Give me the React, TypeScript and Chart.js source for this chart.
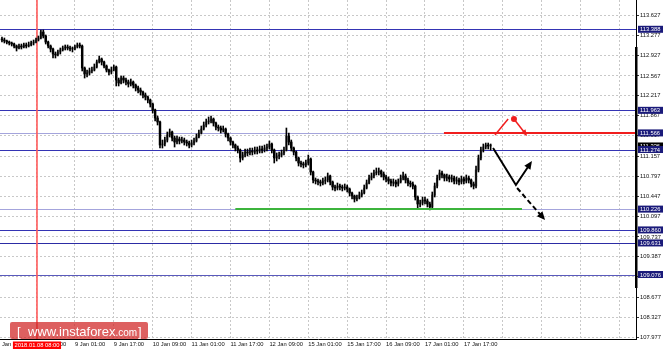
import React, { useEffect, useRef } from "react";
import { Chart, registerables } from "chart.js";
Chart.register(...registerables);

// ---- data (hourly bars, bar index 16 = 8 Jan 09:00) ----
const FIRST_BAR = 2;
const FIRST_OPEN = 113.217;
const closes = [
  113.200, 113.182, 113.164, 113.147, 113.129, 113.094, 113.059, 113.094, 113.077, 113.112,
  113.094, 113.112, 113.147, 113.164, 113.200, 113.235, 113.340, 113.270, 113.164, 113.094,
  113.041, 112.953, 112.936, 112.989, 113.024, 113.059, 113.077, 113.059, 113.041, 113.041,
  113.077, 113.112, 113.094, 112.707, 112.602, 112.619, 112.655, 112.672, 112.725, 112.813,
  112.866, 112.813, 112.742, 112.672, 112.637, 112.672, 112.725, 112.496, 112.444, 112.531,
  112.496, 112.461, 112.426, 112.461, 112.408, 112.356, 112.320, 112.285, 112.233, 112.197,
  112.145, 112.074, 111.969, 111.828, 111.758, 111.353, 111.371, 111.441, 111.529, 111.582,
  111.476, 111.406, 111.459, 111.424, 111.441, 111.406, 111.388, 111.353, 111.388, 111.424,
  111.494, 111.564, 111.635, 111.705, 111.758, 111.775, 111.810, 111.740, 111.670, 111.652,
  111.617, 111.635, 111.547, 111.476, 111.406, 111.353, 111.300, 111.265, 111.125, 111.177,
  111.230, 111.213, 111.248, 111.230, 111.265, 111.248, 111.283, 111.265, 111.300, 111.318,
  111.371, 111.265, 111.125, 111.160, 111.177, 111.213, 111.265, 111.511, 111.406, 111.300,
  111.230, 111.125, 111.037, 111.019, 111.002, 111.037, 111.107, 110.879, 110.738, 110.720,
  110.703, 110.685, 110.720, 110.738, 110.808, 110.703, 110.615, 110.597, 110.632, 110.615,
  110.597, 110.615, 110.580, 110.509, 110.457, 110.404, 110.421, 110.474, 110.509, 110.597,
  110.685, 110.773, 110.808, 110.861, 110.879, 110.896, 110.843, 110.791, 110.756, 110.720,
  110.685, 110.703, 110.668, 110.703, 110.773, 110.808, 110.738, 110.685, 110.668, 110.632,
  110.439, 110.316, 110.333, 110.386, 110.369, 110.316, 110.263, 110.474, 110.632, 110.773,
  110.861, 110.826, 110.773, 110.791, 110.756, 110.773, 110.720, 110.738, 110.703, 110.756,
  110.720, 110.773, 110.738, 110.668, 110.632, 110.914, 111.125, 111.265, 111.318, 111.353,
  111.336, 111.336,
];
const highs = [
  113.252, 113.235, 113.200, 113.182, 113.164, 113.147, 113.112, 113.129, 113.129, 113.147,
  113.147, 113.164, 113.182, 113.200, 113.235, 113.270, 113.376, 113.376, 113.288, 113.182,
  113.112, 113.059, 112.989, 113.024, 113.059, 113.094, 113.112, 113.112, 113.094, 113.077,
  113.112, 113.147, 113.147, 113.112, 112.725, 112.672, 112.707, 112.725, 112.778, 112.848,
  112.918, 112.883, 112.830, 112.760, 112.690, 112.725, 112.760, 112.742, 112.531, 112.567,
  112.567, 112.531, 112.496, 112.514, 112.479, 112.426, 112.391, 112.356, 112.303, 112.268,
  112.215, 112.162, 112.092, 111.986, 111.863, 111.775, 111.441, 111.494, 111.582, 111.635,
  111.599, 111.511, 111.511, 111.494, 111.494, 111.476, 111.441, 111.424, 111.441, 111.476,
  111.547, 111.617, 111.687, 111.758, 111.810, 111.846, 111.863, 111.828, 111.758, 111.705,
  111.687, 111.687, 111.652, 111.564, 111.494, 111.424, 111.371, 111.336, 111.283, 111.230,
  111.283, 111.283, 111.300, 111.300, 111.318, 111.318, 111.336, 111.336, 111.353, 111.371,
  111.424, 111.388, 111.283, 111.213, 111.230, 111.265, 111.318, 111.652, 111.564, 111.441,
  111.318, 111.248, 111.142, 111.072, 111.054, 111.090, 111.177, 111.125, 110.896, 110.773,
  110.756, 110.738, 110.773, 110.791, 110.861, 110.826, 110.720, 110.650, 110.685, 110.668,
  110.650, 110.668, 110.650, 110.597, 110.527, 110.474, 110.474, 110.527, 110.562, 110.650,
  110.738, 110.826, 110.861, 110.914, 110.949, 110.949, 110.914, 110.879, 110.826, 110.791,
  110.756, 110.756, 110.738, 110.756, 110.826, 110.879, 110.843, 110.773, 110.720, 110.703,
  110.650, 110.457, 110.386, 110.439, 110.439, 110.404, 110.351, 110.527, 110.685, 110.826,
  110.914, 110.896, 110.843, 110.843, 110.826, 110.826, 110.808, 110.791, 110.773, 110.808,
  110.791, 110.826, 110.808, 110.756, 110.703, 110.984, 111.177, 111.318, 111.371, 111.388,
  111.388, 111.371,
];
const lows = [
  113.164, 113.147, 113.129, 113.112, 113.094, 113.059, 113.006, 113.041, 113.041, 113.059,
  113.059, 113.077, 113.094, 113.112, 113.147, 113.182, 113.217, 113.235, 113.129, 113.059,
  112.989, 112.883, 112.883, 112.918, 112.953, 113.006, 113.024, 113.024, 113.006, 112.989,
  113.024, 113.059, 113.059, 112.655, 112.531, 112.549, 112.584, 112.619, 112.655, 112.707,
  112.795, 112.760, 112.707, 112.637, 112.584, 112.602, 112.655, 112.391, 112.391, 112.426,
  112.444, 112.408, 112.373, 112.391, 112.356, 112.303, 112.268, 112.233, 112.180, 112.145,
  112.092, 112.021, 111.916, 111.775, 111.705, 111.300, 111.300, 111.336, 111.406, 111.494,
  111.424, 111.318, 111.371, 111.371, 111.388, 111.353, 111.336, 111.300, 111.318, 111.353,
  111.406, 111.476, 111.547, 111.617, 111.670, 111.722, 111.740, 111.687, 111.617, 111.599,
  111.564, 111.582, 111.494, 111.424, 111.353, 111.300, 111.248, 111.213, 111.054, 111.090,
  111.142, 111.160, 111.177, 111.177, 111.195, 111.195, 111.213, 111.213, 111.230, 111.248,
  111.283, 111.213, 111.037, 111.072, 111.107, 111.142, 111.177, 111.248, 111.353, 111.248,
  111.177, 111.072, 110.984, 110.967, 110.949, 110.967, 111.002, 110.826, 110.685, 110.668,
  110.650, 110.632, 110.650, 110.668, 110.703, 110.650, 110.562, 110.545, 110.562, 110.562,
  110.545, 110.562, 110.527, 110.457, 110.404, 110.351, 110.369, 110.404, 110.439, 110.492,
  110.580, 110.668, 110.738, 110.773, 110.826, 110.826, 110.791, 110.738, 110.703, 110.668,
  110.632, 110.632, 110.615, 110.632, 110.685, 110.738, 110.685, 110.632, 110.615, 110.580,
  110.386, 110.245, 110.263, 110.298, 110.316, 110.263, 110.210, 110.228, 110.439, 110.597,
  110.738, 110.773, 110.720, 110.720, 110.703, 110.703, 110.668, 110.668, 110.650, 110.668,
  110.668, 110.685, 110.685, 110.615, 110.580, 110.597, 110.879, 111.090, 111.230, 111.283,
  111.283, 111.265,
];

const timeTickBars = [0, 16, 32, 48, 64, 80, 96, 112, 128, 144, 160, 176, 192, 208, 224, 240, 256];
const timeTickLabels = [
  "5 Jan 17:00", "8 Jan 09:00", "9 Jan 01:00", "9 Jan 17:00", "10 Jan 09:00", "11 Jan 01:00",
  "11 Jan 17:00", "12 Jan 09:00", "15 Jan 01:00", "15 Jan 17:00", "16 Jan 09:00", "17 Jan 01:00",
  "17 Jan 17:00", "", "", "", "",
];
const priceTicks = [
  113.627, 113.277, 112.927, 112.567, 112.217, 111.867, 111.517, 111.157, 110.797,
  110.447, 110.097, 109.737, 109.387, 109.037, 108.677, 108.327, 107.977,
];
const levelPrices = [113.388, 111.963, 111.566, 111.274, 110.226, 109.86, 109.631, 109.076];
const levelColors = ["#3434b4", "#3434b4", "#a4a4dc", "#3434b4", "#a4a4dc", "#3434b4", "#2c2ca4", "#5a5abc"];

const markerBar = 16.4;
const markerLabel = "2018.01.08 08:00";
const redLevel = 111.566;
const redFromBar = 183.8;
const greenLevel = 110.226;
const greenFromBar = 98;
const greenToBar = 215.9;
const redRise = [[204.8, 111.53], [210.2, 111.811]];
const redDot = [212.6, 111.811];
const redArrow = [[212.6, 111.811], [218.0, 111.512]];
const blackPath = [[204.0, 111.301], [213.4, 110.65], [220.0, 111.072]];
const blackDash = [[213.9, 110.597], [225.4, 110.035]];

const X_MIN = 1.19;
const X_MAX = 262.8;
const Y_MIN = 107.942;
const Y_MAX = 113.903;

const FONT = "'Liberation Sans', Arial, sans-serif";

function drawArrow(ctx: CanvasRenderingContext2D, pts: number[][], color: string, width: number, dash: number[], head: number) {
  ctx.save();
  ctx.strokeStyle = color;
  ctx.fillStyle = color;
  ctx.lineWidth = width;
  ctx.setLineDash(dash);
  const n = pts.length;
  const [x1, y1] = pts[n - 2];
  const [x2, y2] = pts[n - 1];
  const ang = Math.atan2(y2 - y1, x2 - x1);
  const ex = x2 - Math.cos(ang) * head * 0.8;
  const ey = y2 - Math.sin(ang) * head * 0.8;
  ctx.beginPath();
  ctx.moveTo(pts[0][0], pts[0][1]);
  for (let k = 1; k < n - 1; k++) ctx.lineTo(pts[k][0], pts[k][1]);
  ctx.lineTo(ex, ey);
  ctx.stroke();
  ctx.setLineDash([]);
  ctx.beginPath();
  ctx.moveTo(x2, y2);
  ctx.lineTo(x2 - Math.cos(ang - 0.42) * head, y2 - Math.sin(ang - 0.42) * head);
  ctx.lineTo(x2 - Math.cos(ang + 0.42) * head, y2 - Math.sin(ang + 0.42) * head);
  ctx.closePath();
  ctx.fill();
  ctx.restore();
}

const overlayPlugin = {
  id: "overlay",
  beforeDatasetsDraw(chart: any) {
    const { ctx, chartArea: a, scales } = chart;
    const x = scales.x, y = scales.y;
    ctx.save();
    ctx.beginPath();
    ctx.rect(a.left, a.top, a.right - a.left, a.bottom - a.top);
    ctx.clip();
    ctx.setLineDash([]);
    levelPrices.forEach((p, k) => {
      const py = Math.round(y.getPixelForValue(p)) + 0.5;
      ctx.strokeStyle = levelColors[k];
      ctx.lineWidth = 1.2;
      ctx.beginPath();
      ctx.moveTo(a.left, py);
      ctx.lineTo(a.right, py);
      ctx.stroke();
    });
    const mx = x.getPixelForValue(markerBar);
    ctx.strokeStyle = "#ff5a5a";
    ctx.lineWidth = 1.6;
    ctx.beginPath();
    ctx.moveTo(mx, a.top);
    ctx.lineTo(mx, a.bottom);
    ctx.stroke();
    ctx.restore();
  },
  afterDatasetsDraw(chart: any) {
    const { ctx, chartArea: a, scales } = chart;
    const x = scales.x, y = scales.y;
    const P = (p: number[]) => [x.getPixelForValue(p[0]), y.getPixelForValue(p[1])];
    ctx.save();
    ctx.beginPath();
    ctx.rect(a.left, a.top, a.right - a.left, a.bottom - a.top);
    ctx.clip();
    const ry = y.getPixelForValue(redLevel);
    ctx.strokeStyle = "#f01e1e";
    ctx.lineWidth = 2;
    ctx.beginPath();
    ctx.moveTo(x.getPixelForValue(redFromBar), ry);
    ctx.lineTo(a.right, ry);
    ctx.stroke();
    const gy = y.getPixelForValue(greenLevel);
    ctx.strokeStyle = "#3cb43c";
    ctx.lineWidth = 2;
    ctx.beginPath();
    ctx.moveTo(x.getPixelForValue(greenFromBar), gy);
    ctx.lineTo(x.getPixelForValue(greenToBar), gy);
    ctx.stroke();
    const r0 = P(redRise[0]), r1 = P(redRise[1]);
    ctx.strokeStyle = "#f01e1e";
    ctx.lineWidth = 1.5;
    ctx.beginPath();
    ctx.moveTo(r0[0], r0[1]);
    ctx.lineTo(r1[0], r1[1]);
    ctx.stroke();
    drawArrow(ctx, redArrow.map(P), "#f01e1e", 1.5, [], 7);
    const d = P(redDot);
    ctx.fillStyle = "#f01e1e";
    ctx.beginPath();
    ctx.arc(d[0], d[1], 3, 0, Math.PI * 2);
    ctx.fill();
    drawArrow(ctx, blackPath.map(P), "#000", 2, [], 9);
    drawArrow(ctx, blackDash.map(P), "#000", 2, [5, 3], 9);
    ctx.restore();
  },
  afterDraw(chart: any) {
    const { ctx, chartArea: a, scales, width } = chart;
    const x = scales.x, y = scales.y;
    ctx.save();
    ctx.setLineDash([]);
    ctx.strokeStyle = "#000";
    ctx.lineWidth = 1;
    ctx.beginPath();
    ctx.moveTo(a.left, a.bottom + 0.5);
    ctx.lineTo(a.right + 1, a.bottom + 0.5);
    ctx.moveTo(a.right + 0.5, a.top);
    ctx.lineTo(a.right + 0.5, a.bottom + 1);
    ctx.stroke();
    ctx.fillStyle = "#000";
    ctx.fillRect(a.right - 1, 47, 2.5, 241);
    ctx.font = `5.8px ${FONT}`;
    ctx.textBaseline = "middle";
    ctx.textAlign = "left";
    const last = closes[closes.length - 1];
    const boxes: [number, string][] = [[last, "#000000"]];
    levelPrices.forEach((p) => boxes.push([p, "#1a1a7a"]));
    boxes.forEach(([p, bg]) => {
      const py = y.getPixelForValue(p);
      ctx.fillStyle = bg;
      ctx.fillRect(a.right + 2, py - 3.5, width - a.right - 2, 7);
      ctx.fillStyle = "#fff";
      ctx.fillText(p.toFixed(3), a.right + 4, py + 0.5);
    });
    const mx = x.getPixelForValue(markerBar);
    ctx.font = `5.8px ${FONT}`;
    const tw = ctx.measureText(markerLabel).width;
    ctx.fillStyle = "#ff0000";
    ctx.fillRect(mx - tw / 2 - 1.5, a.bottom + 2.5, tw + 3, 7.5);
    ctx.fillStyle = "#fff";
    ctx.textAlign = "center";
    ctx.fillText(markerLabel, mx, a.bottom + 6.5);
    ctx.fillStyle = "rgba(208, 34, 34, 0.72)";
    ctx.beginPath();
    (ctx as any).roundRect(10, 322, 138, 17, 2);
    ctx.fill();
    ctx.fillStyle = "#fff";
    ctx.textAlign = "left";
    ctx.textBaseline = "alphabetic";
    ctx.font = `13px ${FONT}`;
    ctx.fillText("[", 17, 336);
    ctx.fillText("www.instaforex", 28, 336);
    const w1 = ctx.measureText("www.instaforex").width;
    ctx.font = `10px ${FONT}`;
    ctx.fillText(".com", 28 + w1, 336);
    ctx.font = `13px ${FONT}`;
    ctx.fillText("]", 138, 336);
    ctx.restore();
  },
};

export default function App() {
  const ref = useRef<HTMLCanvasElement | null>(null);
  useEffect(() => {
    document.body.style.margin = "0";
    const canvas = ref.current;
    if (!canvas) return;
    const wicks: any[] = [];
    const bodies: any[] = [];
    const bodyColors: string[] = [];
    closes.forEach((c, k) => {
      const o = k === 0 ? FIRST_OPEN : closes[k - 1];
      const i = FIRST_BAR + k;
      wicks.push({ x: i, y: [lows[k], highs[k]] });
      bodies.push({ x: i, y: [o, c] });
      bodyColors.push(c >= o ? "#7a7a7a" : "#000000");
    });
    const chart = new Chart(canvas, {
      type: "bar",
      data: {
        datasets: [
          { data: wicks, backgroundColor: "#000", barThickness: 1, grouped: false, minBarLength: 1 } as any,
          { data: bodies, backgroundColor: bodyColors, barThickness: 1.8, grouped: false, minBarLength: 1 } as any,
        ],
      },
      plugins: [overlayPlugin as any],
      options: {
        animation: false,
        responsive: false,
        maintainAspectRatio: false,
        devicePixelRatio: 1,
        layout: { padding: 0, autoPadding: false },
        plugins: { legend: { display: false }, tooltip: { enabled: false } },
        scales: {
          x: {
            type: "linear",
            min: X_MIN,
            max: X_MAX,
            offset: false,
            afterBuildTicks: (s: any) => {
              s.ticks = timeTickBars.map((v) => ({ value: v }));
            },
            afterFit: (s: any) => {
              s.height = 13;
              s.paddingLeft = 0;
              s.paddingRight = 0;
            },
            grid: { color: "#c8c8c8", drawTicks: false, offset: false, lineWidth: 1 },
            border: { display: false, dash: [2, 2] },
            ticks: {
              autoSkip: false,
              maxRotation: 0,
              minRotation: 0,
              align: "start",
              padding: 2,
              color: "#111",
              font: { family: FONT, size: 5.8 },
              callback: (v: any) => {
                const k = timeTickBars.indexOf(Number(v));
                return k >= 0 ? timeTickLabels[k] : "";
              },
            },
          },
          y: {
            type: "linear",
            position: "right",
            min: Y_MIN,
            max: Y_MAX,
            afterBuildTicks: (s: any) => {
              s.ticks = priceTicks.map((v) => ({ value: v }));
            },
            afterFit: (s: any) => {
              s.width = 27;
              s.paddingTop = 0;
              s.paddingBottom = 0;
            },
            grid: { color: "#c8c8c8", drawTicks: true, tickLength: 3, tickColor: "#333", lineWidth: 1 },
            border: { display: false, dash: [2, 2] },
            ticks: {
              autoSkip: false,
              padding: 1,
              color: "#111",
              font: { family: FONT, size: 5.8 },
              callback: (v: any) => Number(v).toFixed(3),
            },
          },
        },
      } as any,
    });
    return () => chart.destroy();
  }, []);
  return (
    <div style={{ width: 663, height: 352, position: "relative" }}>
      <canvas ref={ref} width={663} height={352} style={{ display: "block", width: 663, height: 352 }} />
    </div>
  );
}
